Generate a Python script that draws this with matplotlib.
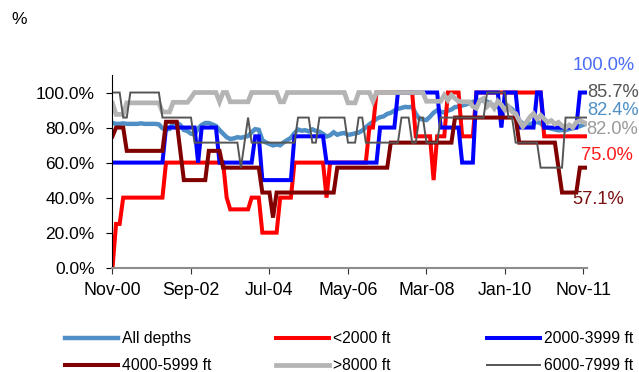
import numpy as np
import pandas as pd
import matplotlib
matplotlib.use("Agg")
import matplotlib.pyplot as plt

plt.rcParams['font.family'] = ['Liberation Sans', 'DejaVu Sans']

# Monthly observations, Nov-2000 .. Dec-2011
months = pd.date_range('2000-11-01', '2011-12-01', freq='MS')

all_depths = [
    82.6, 82.1, 82.1, 82.4, 82.1, 82.1, 82.1, 82.1, 82.4, 82.1, 82.1, 82.1,
    82.1, 81.8, 79.6, 78.8, 79.2, 82.5, 82.8, 81.5, 78.6, 78.0, 76.5, 76.0,
    79.5, 81.5, 82.6, 82.6, 81.8, 80.9, 78.6, 76.5, 74.5, 73.5, 73.8, 74.5,
    74.2, 74.6, 75.2, 77.3, 79.1, 78.7, 72.8, 71.5, 70.6, 69.8, 70.3, 69.9,
    71.6, 72.9, 74.1, 76.8, 78.9, 78.2, 78.5, 77.8, 79.0, 78.1, 77.6, 76.4,
    74.9, 75.6, 77.3, 75.9, 76.6, 76.9, 75.8, 76.2, 76.7, 77.1, 78.3, 80.1,
    81.8, 83.3, 85.0, 85.9, 86.4, 87.8, 88.4, 89.7, 90.6, 91.2, 91.8, 91.6,
    91.9, 87.9, 85.1, 84.6, 84.3, 86.2, 88.5, 89.8, 89.0, 88.6, 89.6, 90.3,
    91.7, 91.9, 92.6, 93.1, 94.0, 94.6, 95.2, 95.6, 95.4, 94.8, 93.6, 92.4,
    91.8, 91.2, 92.8, 91.9, 90.6, 87.4, 84.1, 82.2, 81.3, 82.0, 82.6, 83.2,
    82.5, 80.4, 79.9, 79.4, 78.9, 78.4, 78.6, 78.5, 79.1, 79.5, 80.2, 80.8,
    81.6, 82.4,
]

below_2000 = [
    0, 25, 25, 40, 40, 40, 40, 40, 40, 40, 40, 40,
    40, 40, 40, 60, 60, 60, 60, 60, 60, 60, 60, 60,
    60, 60, 60, 60, 60, 60, 60, 60, 40, 33.3, 33.3, 33.3,
    33.3, 33.3, 33.3, 40, 40, 40, 20, 20, 20, 20, 20, 40,
    40, 40, 40, 60, 60, 60, 60, 60, 60, 60, 60, 60,
    40, 60, 60, 60, 60, 60, 60, 60, 60, 60, 60, 60,
    80, 80, 100, 100, 100, 100, 100, 100, 100, 100, 100, 100,
    100, 75, 75, 75, 75, 75, 50, 75, 75, 75, 100, 100,
    100, 100, 75, 75, 75, 75, 100, 100, 100, 100, 100, 100,
    100, 100, 100, 100, 100, 100, 100, 100, 100, 100, 100, 100,
    100, 75, 75, 75, 75, 75, 75, 75, 75, 75, 75, 75,
    75, 75,
]

ft_2000_3999 = [
    60, 60, 60, 60, 60, 60, 60, 60, 60, 60, 60, 60,
    60, 60, 60, 80, 80, 80, 80, 80, 80, 80, 80, 80,
    60, 80, 80, 80, 80, 80, 60, 60, 60, 60, 60, 60,
    60, 60, 60, 60, 75, 75, 50, 50, 50, 50, 50, 50,
    50, 50, 50, 75, 75, 75, 75, 75, 75, 75, 75, 75,
    60, 60, 60, 60, 60, 60, 60, 60, 60, 60, 60, 60,
    60, 60, 60, 80, 80, 80, 80, 80, 100, 100, 100, 100,
    100, 100, 100, 100, 100, 100, 100, 100, 80, 80, 80, 80,
    80, 80, 60, 60, 60, 60, 100, 100, 100, 100, 100, 100,
    100, 80, 100, 100, 100, 100, 80, 80, 80, 80, 80, 100,
    100, 80, 80, 80, 80, 80, 80, 80, 80, 80, 80, 100,
    100, 100,
]

ft_4000_5999 = [
    75, 80, 80, 80, 66.7, 66.7, 66.7, 66.7, 66.7, 66.7, 66.7, 66.7,
    66.7, 66.7, 66.7, 83.3, 83.3, 83.3, 83.3, 66.7, 50, 50, 50, 50,
    50, 50, 50, 66.7, 66.7, 66.7, 66.7, 57.1, 57.1, 57.1, 57.1, 57.1,
    57.1, 57.1, 57.1, 57.1, 57.1, 57.1, 42.9, 42.9, 42.9, 28.6, 42.9, 42.9,
    42.9, 42.9, 42.9, 42.9, 42.9, 42.9, 42.9, 42.9, 42.9, 42.9, 42.9, 42.9,
    42.9, 42.9, 42.9, 57.1, 57.1, 57.1, 57.1, 57.1, 57.1, 57.1, 57.1, 57.1,
    57.1, 57.1, 57.1, 57.1, 57.1, 57.1, 71.4, 71.4, 71.4, 71.4, 71.4, 71.4,
    71.4, 71.4, 71.4, 71.4, 71.4, 71.4, 71.4, 71.4, 71.4, 71.4, 71.4, 71.4,
    85.7, 85.7, 85.7, 85.7, 85.7, 85.7, 85.7, 85.7, 85.7, 85.7, 85.7, 85.7,
    85.7, 85.7, 85.7, 85.7, 85.7, 85.7, 71.4, 71.4, 71.4, 71.4, 71.4, 71.4,
    71.4, 71.4, 71.4, 71.4, 71.4, 57.1, 42.9, 42.9, 42.9, 42.9, 42.9, 57.1,
    57.1, 57.1,
]

above_8000 = [
    93.8, 87.5, 87.5, 87.5, 94.1, 94.1, 94.1, 94.1, 94.1, 94.1, 94.1, 94.1,
    94.1, 94.1, 88.9, 88.9, 88.9, 94.4, 94.4, 94.4, 94.4, 94.4, 97.0, 100,
    100, 100, 100, 100, 100, 100, 94.7, 100, 100, 94.7, 94.7, 94.7,
    94.7, 94.7, 94.7, 100, 100, 100, 100, 100, 100, 100, 100, 94.7,
    94.7, 100, 100, 100, 100, 100, 100, 100, 100, 100, 100, 100,
    100, 100, 100, 100, 100, 100, 94.1, 94.1, 94.1, 100, 100, 100,
    100, 95, 100, 100, 100, 100, 100, 100, 100, 100, 100, 100,
    100, 100, 100, 100, 95, 95, 95, 95, 95, 98.5, 95.6, 98.5,
    96.6, 95, 94.7, 94.7, 94.7, 92, 91, 95.6, 96.6, 92, 94, 91,
    95, 93, 90, 92, 89, 88, 84, 80.5, 83, 86, 88, 85,
    87, 85, 83, 84, 82, 83, 81, 80, 81.5, 80, 83, 84,
    83, 82,
]

ft_6000_7999 = [
    100, 100, 100, 85.7, 85.7, 100, 100, 100, 100, 100, 100, 100,
    100, 100, 85.7, 85.7, 85.7, 85.7, 85.7, 85.7, 85.7, 85.7, 85.7, 71.4,
    71.4, 71.4, 71.4, 71.4, 71.4, 71.4, 71.4, 71.4, 71.4, 71.4, 71.4, 71.4,
    57.1, 71.4, 85.7, 71.4, 71.4, 71.4, 71.4, 71.4, 71.4, 71.4, 71.4, 71.4,
    71.4, 71.4, 71.4, 71.4, 85.7, 85.7, 85.7, 85.7, 71.4, 71.4, 85.7, 85.7,
    85.7, 85.7, 85.7, 85.7, 85.7, 85.7, 71.4, 71.4, 71.4, 85.7, 85.7, 71.4,
    71.4, 71.4, 71.4, 71.4, 71.4, 71.4, 71.4, 71.4, 71.4, 85.7, 85.7, 85.7,
    71.4, 71.4, 85.7, 85.7, 71.4, 71.4, 71.4, 71.4, 85.7, 85.7, 85.7, 85.7,
    85.7, 85.7, 85.7, 85.7, 85.7, 85.7, 85.7, 85.7, 85.7, 100, 100, 100,
    100, 100, 100, 85.7, 85.7, 71.4, 71.4, 71.4, 71.4, 71.4, 71.4, 71.4,
    57.1, 57.1, 57.1, 57.1, 57.1, 57.1, 57.1, 85.7, 85.7, 85.7, 85.7, 85.7,
    85.7, 85.7,
]

series_names = ["All depths", "<2000 ft", "2000-3999 ft",
                "4000-5999 ft", ">8000 ft", "6000-7999 ft"]
series_values = [all_depths, below_2000, ft_2000_3999,
                 ft_4000_5999, above_8000, ft_6000_7999]
line_colors = ["#4F8FC6", "#FF0000", "#0000FF", "#800000", "#B4B4B4", "#555555"]
line_widths = [3.2, 2.9, 2.9, 2.9, 3.4, 1.4]
end_label_colors = ["#4F8FC6", "#FF1A1A", "#4A6CF7", "#7A1010", "#9A9A9A", "#555555"]
# where each closing value is written (x in months, y in %)
end_label_pos = [(133.0, 89.9), (131.3, 64.3), (129.1, 115.6),
                 (128.9, 39.2), (132.8, 79.1), (133.1, 100.2)]

y_ticks = [0, 20, 40, 60, 80, 100]
tick_step = 22

W, H = 639, 372
fig = plt.figure(figsize=(W / 100, H / 100), dpi=100)
ax = fig.add_axes([112.5 / W, 1 - 267.7 / H, (587 - 112.5) / W, (267.7 - 75) / H])

x = np.arange(len(months))
handles = []
for name, vals, col, lw in zip(series_names, series_values, line_colors, line_widths):
    h, = ax.plot(x, vals, color=col, lw=lw, label=name, solid_joinstyle='miter')
    handles.append(h)

ax.set_xlim(0, 133)
ax.set_ylim(0, 110)

for s in ("top", "right"):
    ax.spines[s].set_visible(False)
ax.spines["left"].set_color("black")
ax.spines["left"].set_linewidth(0.8)
ax.spines["bottom"].set_color("#8C8C8C")
ax.spines["bottom"].set_linewidth(1.5)

ax.set_yticks(y_ticks)
ax.set_yticklabels([f"{v:.1f}%" for v in y_ticks])
tick_idx = x[::tick_step]
ax.set_xticks(tick_idx)
ax.set_xticklabels([months[i].strftime("%b-%y") for i in tick_idx])
ax.tick_params(axis="y", direction="out", length=4.3, width=0.8, pad=8.5,
               labelsize=12.5, colors="black")
ax.tick_params(axis="x", direction="out", length=4.3, width=0.8, pad=6,
               labelsize=12.8, color="#333333", labelcolor="black")

# closing values written beside the line ends
for vals, col, (lx, ly) in zip(series_values, end_label_colors, end_label_pos):
    ax.text(lx, ly, f"{vals[-1]:.1f}%", color=col, fontsize=13.2,
            ha="left", va="center", clip_on=False)

fig.text(11 / W, 1 - 20 / H, "%", fontsize=12.5, ha="left", va="center")

# legend: three columns of two entries
columns = [(0, 3), (1, 4), (2, 5)]
col_x = [65, 275.5, 487]
for (i, j), cx in zip(columns, col_x):
    fig.legend([handles[i], handles[j]], [series_names[i], series_names[j]],
               loc="upper left", bbox_to_anchor=(cx / W, 1 - 331 / H),
               frameon=False, borderpad=0, borderaxespad=0,
               handlelength=3.4, handletextpad=0.25, labelspacing=0.78,
               fontsize=11.3)

fig.savefig("out.png", dpi=100)
